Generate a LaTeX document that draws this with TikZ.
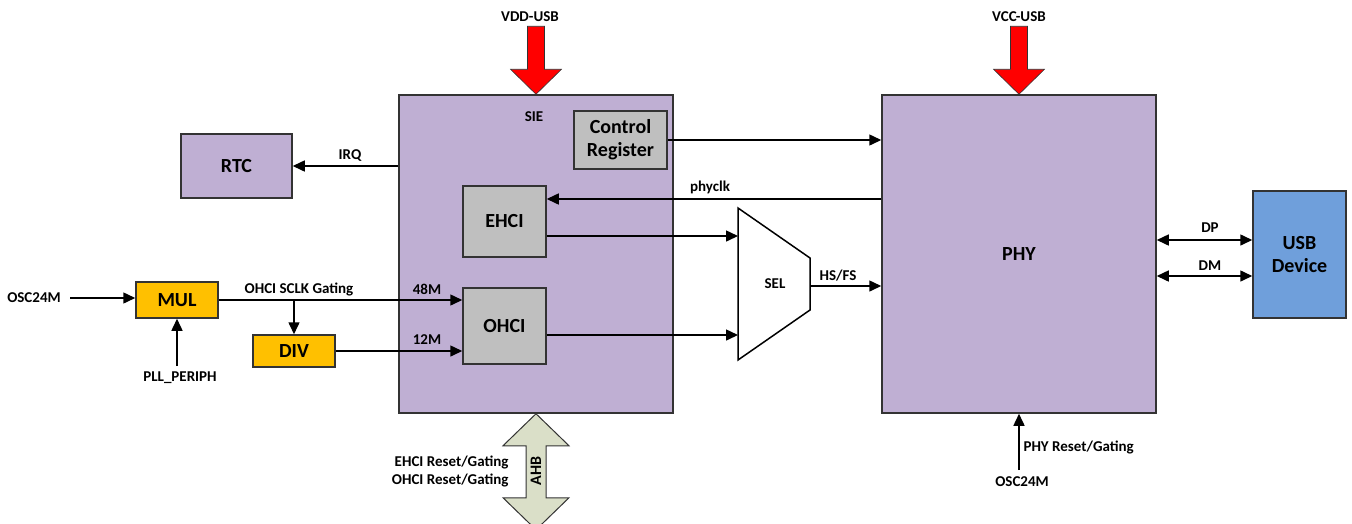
\documentclass[tikz,border=0pt]{standalone}
\usepackage{fontspec}
\setmainfont{Carlito}
\usepackage{tikz}
\usetikzlibrary{arrows.meta}

\definecolor{lilac}{HTML}{BFAFD3}
\definecolor{regray}{HTML}{BFBFBF}
\definecolor{amber}{HTML}{FFC000}
\definecolor{usbblue}{HTML}{6F9FDB}
\definecolor{busgreen}{HTML}{DADFC8}
\definecolor{edge}{HTML}{333333}

\begin{document}
\begin{tikzpicture}[x=1pt, y=-1pt,
    font=\bfseries\fontsize{15}{18}\selectfont,
    block/.style={draw=edge, line width=1.5pt, inner sep=0pt, align=center,
        font=\bfseries\fontsize{20}{23}\selectfont},
    sig/.style={line width=1.5pt, -{Triangle[length=12pt, width=11pt]}},
    bisig/.style={line width=1.5pt, {Triangle[length=12pt, width=11pt]}-{Triangle[length=12pt, width=11pt]}},
    power/.style={fill=red, draw=edge, line width=0.6pt}]
    \useasboundingbox (0,0) rectangle (1352,523);

    % big blocks
    \node[block, fill=lilac, minimum width=274pt, minimum height=318pt] (sie) at (536,254) {};
    \node[block, fill=lilac, minimum width=274pt, minimum height=318pt] (phy) at (1019,254) {PHY};
    \node (sielbl) at (534,117) {SIE};

    % supply arrows
    \draw[power, shift={(sie.north)}] (-8.5,-68) -- (8.5,-68) -- (8.5,-25) -- (25.5,-25)
        -- (0,0) -- (-25.5,-25) -- (-8.5,-25) -- cycle;
    \node (vdd) at (530,17) {VDD-USB};
    \draw[power, shift={(phy.north)}] (-8.5,-68) -- (8.5,-68) -- (8.5,-25) -- (25.5,-25)
        -- (0,0) -- (-25.5,-25) -- (-8.5,-25) -- cycle;
    \node (vcc) at (1019,17) {VCC-USB};

    % inner blocks
    \node[block, fill=regray, minimum width=93pt, minimum height=58pt] (ctrl) at (620.5,140) {Control\\Register};
    \node[block, fill=regray, minimum width=83pt, minimum height=71pt] (ehci) at (504.5,221.5) {EHCI};
    \node[block, fill=regray, minimum width=83pt, minimum height=76pt] (ohci) at (504.5,326) {OHCI};
    \node[block, fill=lilac, minimum width=111pt, minimum height=64pt] (rtc) at (236.5,166) {RTC};
    \node[block, fill=usbblue, minimum width=93pt, minimum height=127pt] (usb) at (1299.5,254.5) {USB\\Device};
    \node[block, fill=amber, minimum width=82pt, minimum height=36pt] (mul) at (177,300) {MUL};
    \node[block, fill=amber, minimum width=82pt, minimum height=32pt] (div) at (294,351) {DIV};

    % SEL mux
    \draw[line width=1.5pt, fill=white] (738,208) -- (810,258) -- (810,310) -- (738,360) -- cycle;
    \node (sel) at (775,284) {SEL};
    \coordinate (selA) at (738,236);
    \coordinate (selB) at (738,335);
    \coordinate (selout) at (810,286);

    % signals
    \draw[sig] (sie.west |- rtc.east) -- (rtc.east);
    \node (irq) at (350,156) {IRQ};
    \draw[sig] (ctrl.east) -- (ctrl.east -| phy.west);
    \draw[sig] (phy.west |- 0,199) -- (ehci.east |- 0,199);
    \node (clk) at (710,187) {phyclk};
    \draw[sig] (ehci.east |- selA) -- (selA);
    \draw[sig] (ohci.east |- selB) -- (selB);
    \draw[sig] (selout) -- (selout -| phy.west);
    \node (hsfs) at (838,276) {HS/FS};
    \draw[bisig] (phy.east |- 0,240) -- (usb.west |- 0,240);
    \node (dp) at (1210,228) {DP};
    \draw[bisig] (phy.east |- 0,276) -- (usb.west |- 0,276);
    \node (dm) at (1210,266) {DM};

    % clock path
    \node (osca) at (34,298) {OSC24M};
    \draw[sig] (70,298) -- (mul.west |- 0,298);
    \node (pll) at (180,378) {PLL\_PERIPH};
    \draw[sig] (mul.south |- 0,366) -- (mul.south);
    \draw[sig] (mul.east) -- (mul.east -| ohci.west);
    \node (gate) at (299,289) {OHCI SCLK Gating};
    \node (m48) at (427,289) {48M};
    \draw[sig] (div.north |- mul.east) -- (div.north);
    \draw[sig] (div.east) -- (div.east -| ohci.west);
    \node (m12) at (427,340) {12M};

    % AHB bus
    \draw[fill=busgreen, draw=edge, line width=1pt, shift={(sie.south)}]
        (0,0) -- (33,32) -- (10,32) -- (10,84) -- (33,84) -- (0,116)
        -- (-33,84) -- (-10,84) -- (-10,32) -- (-33,32) -- cycle;
    \node[rotate=90, font=\bfseries\fontsize{16}{18}\selectfont] (ahb) at (536,471) {AHB};
    \node[align=right, anchor=east] (rst) at (512,471) {EHCI Reset/Gating\\OHCI Reset/Gating};

    % PHY reset
    \node (oscb) at (1022,482) {OSC24M};
    \draw[sig] (phy.south |- 0,470) -- (phy.south);
    \node[anchor=west] (phyrst) at (1020,447) {PHY Reset/Gating};
\end{tikzpicture}
\end{document}
